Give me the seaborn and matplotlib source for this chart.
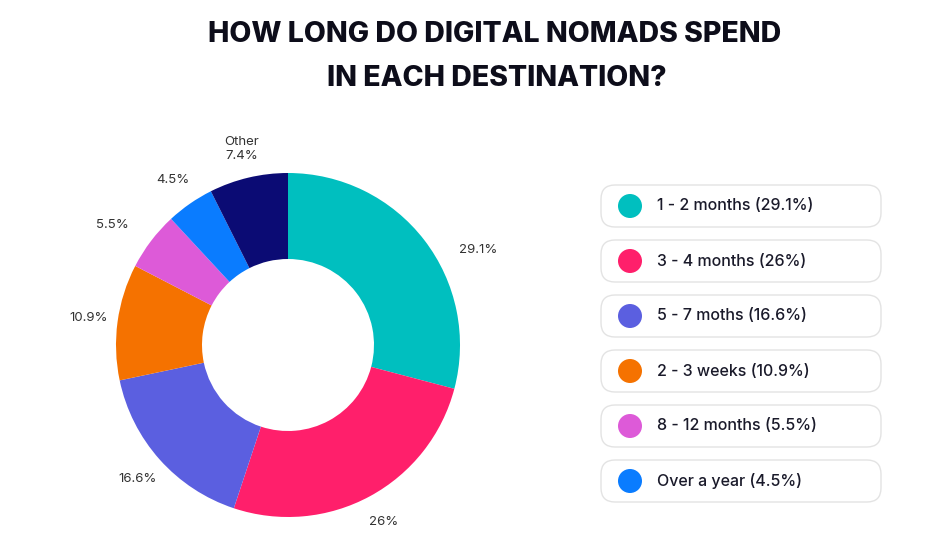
import matplotlib
matplotlib.use('Agg')
import matplotlib.pyplot as plt
import seaborn as sns
from matplotlib.patches import FancyBboxPatch, Circle

# data
categories = ['1 - 2 months', '3 - 4 months', '5 - 7 moths', '2 - 3 weeks',
              '8 - 12 months', 'Over a year', 'Other']
values = [29.1, 26, 16.6, 10.9, 5.5, 4.5, 7.4]
pct_labels = ['29.1%', '26%', '16.6%', '10.9%', '5.5%', '4.5%', 'Other\n7.4%']
legend_labels = ['1 - 2 months (29.1%)', '3 - 4 months (26%)', '5 - 7 moths (16.6%)',
                 '2 - 3 weeks (10.9%)', '8 - 12 months (5.5%)', 'Over a year (4.5%)']
colors = ['#00BFBF', '#FF1F6B', '#5B5FE0', '#F57200', '#DD5AD8', '#0A7CFF', '#0B0B74']

sns.set_theme(style='white')
plt.rcParams['font.family'] = ['Inter', 'DejaVu Sans']

W, H = 943, 556
fig = plt.figure(figsize=(W / 100, H / 100), dpi=100)
fig.patch.set_facecolor('white')

# title
fig.text(495 / W, 1 - 35 / H, 'HOW LONG DO DIGITAL NOMADS SPEND', ha='center', va='center',
         fontsize=20.5, fontweight='heavy', color='#0d0d1a')
fig.text(497 / W, 1 - 78 / H, 'IN EACH DESTINATION?', ha='center', va='center',
         fontsize=20.5, fontweight='heavy', color='#0d0d1a')

# donut
cx, cy, r = 288, 345, 172
half = 1.25 * r
ax = fig.add_axes([(cx - half) / W, (H - cy - half) / H, 2 * half / W, 2 * half / H])
wedges, texts = ax.pie(values, labels=pct_labels, colors=colors, startangle=90,
                       counterclock=False, radius=1, labeldistance=1.17,
                       wedgeprops=dict(width=0.5, edgecolor='none'),
                       textprops=dict(fontsize=9.5, color='#333333', ha='center', va='center'))
texts[0].set_position((1.105, 0.55))
texts[4].set_position((-1.02, 0.70))
ax.set_xlim(-1.25, 1.25)
ax.set_ylim(-1.25, 1.25)
ax.set_aspect('equal')
ax.axis('off')

# legend boxes
lax = fig.add_axes([0, 0, 1, 1])
lax.set_xlim(0, W)
lax.set_ylim(H, 0)
lax.axis('off')
for i, (lab, col) in enumerate(zip(legend_labels, colors)):
    yc = 206 + 55 * i
    box = FancyBboxPatch((601, yc - 21), 280, 42, boxstyle='round,pad=0,rounding_size=14',
                         facecolor='white', edgecolor='#e3e3e3', linewidth=1)
    lax.add_patch(box)
    lax.add_patch(Circle((630, yc), 12, facecolor=col, edgecolor='none'))
    lax.text(657, yc, lab, ha='left', va='center', fontsize=11.5,
             fontweight='medium', color='#1a1a2a')

plt.savefig('out.png', dpi=100)
